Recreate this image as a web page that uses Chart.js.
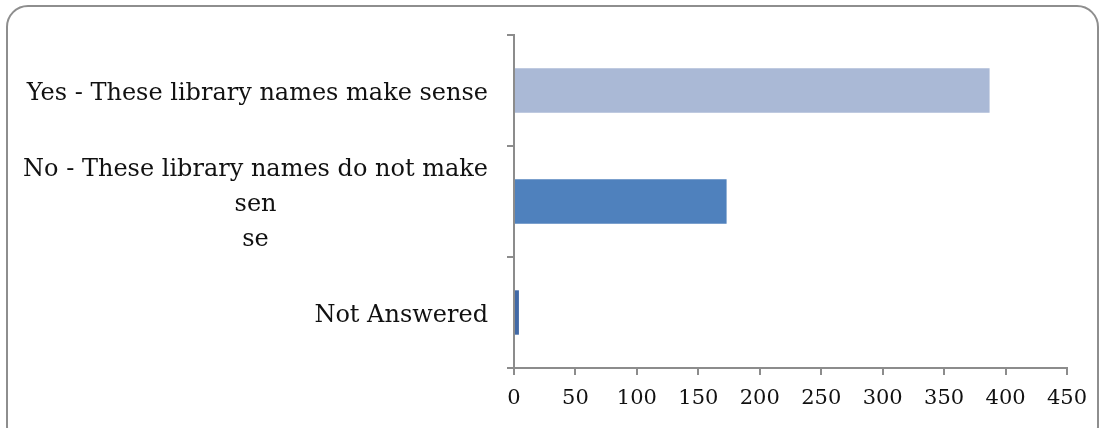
<!DOCTYPE html>
<html>
<head>
<meta charset="utf-8">
<script src="https://cdn.jsdelivr.net/npm/chart.js@4/dist/chart.umd.min.js"></script>
<style>
    html, body { margin: 0; padding: 0; background: #fff; overflow: hidden; }
    #frame {
        position: absolute; left: 6px; top: 5px; width: 1089px; height: 440px;
        border: 2px solid #8e8e8e; border-radius: 22px;
    }
    #wrap { position: absolute; left: 0; top: 0; width: 1102px; height: 428px; }
</style>
</head>
<body>
<div id="frame"></div>
<div id="wrap"><canvas id="chart" width="1102" height="428"></canvas></div>
<script>
let categories = [
    ["Yes - These library names make sense"],
    ["No - These library names do not make", "sen", "se"],
    ["Not Answered"]
];
let values = [387, 173, 4];
let barColors = ['#AAB9D6', '#4F81BD', '#4169A6'];
let xTicks = [0, 50, 100, 150, 200, 250, 300, 350, 400, 450];

const labelFont = '24px "DejaVu Serif"';
const axisColor = '#8c8c8c';

// draws category labels: first line right aligned, wrapped parts centred under it
const categoryLabels = {
    id: 'categoryLabels',
    afterDraw(chart) {
        let ctx = chart.ctx;
        let yScale = chart.scales.y;
        let rightEdge = chart.chartArea.left - 26;
        let lineHeight = 35;
        ctx.save();
        ctx.font = labelFont;
        ctx.fillStyle = '#111';
        ctx.textBaseline = 'middle';
        categories.forEach((lines, i) => {
            let yc = yScale.getPixelForTick(i) + 3;
            let top = yc - (lines.length - 1) * lineHeight / 2;
            let w0 = ctx.measureText(lines[0]).width;
            let mid = rightEdge - w0 / 2;
            lines.forEach((line, j) => {
                if (j === 0) {
                    ctx.textAlign = 'right';
                    ctx.fillText(line, rightEdge, top);
                } else {
                    ctx.textAlign = 'center';
                    ctx.fillText(line, mid, top + j * lineHeight);
                }
            });
        });
        ctx.restore();
    }
};

let ctx = document.getElementById('chart').getContext('2d');
new Chart(ctx, {
    type: 'bar',
    data: {
        labels: categories,
        datasets: [{
            data: values,
            backgroundColor: barColors,
            borderWidth: 0,
            categoryPercentage: 1,
            barPercentage: 0.4
        }]
    },
    options: {
        indexAxis: 'y',
        responsive: false,
        animation: false,
        layout: { padding: { top: 35, right: 35, left: 0, bottom: 0 } },
        scales: {
            x: {
                min: 0,
                max: 450,
                afterFit: scale => { scale.height = 60; },
                afterBuildTicks: scale => { scale.ticks = xTicks.map(v => ({ value: v })); },
                grid: { drawOnChartArea: false, color: axisColor, lineWidth: 2, tickLength: 7 },
                border: { color: axisColor, width: 2 },
                ticks: {
                    color: '#111',
                    padding: 11,
                    font: { family: 'DejaVu Serif', size: 21 }
                }
            },
            y: {
                afterFit: scale => { scale.width = 514; },
                grid: { drawOnChartArea: false, offset: true, color: axisColor, lineWidth: 2, tickLength: 7 },
                border: { color: axisColor, width: 2 },
                ticks: { display: false }
            }
        },
        plugins: {
            legend: { display: false },
            tooltip: { enabled: false }
        }
    },
    plugins: [categoryLabels]
});
</script>
</body>
</html>
